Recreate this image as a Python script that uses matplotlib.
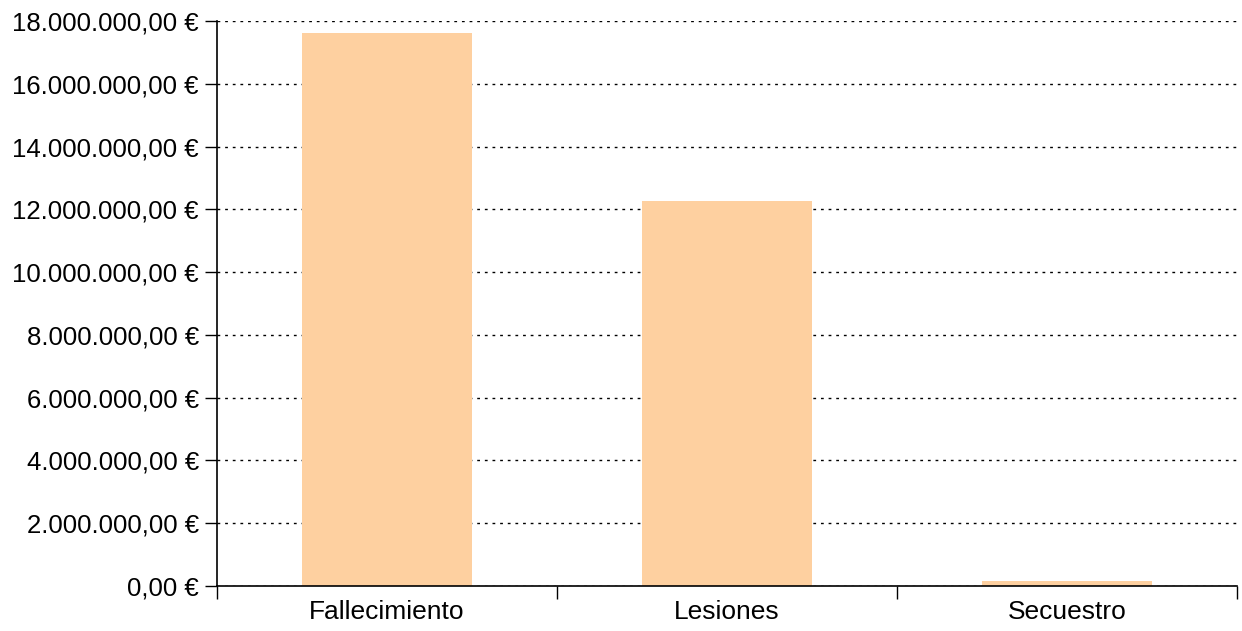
import matplotlib
matplotlib.use("Agg")
import matplotlib.pyplot as plt
from matplotlib.ticker import FuncFormatter, FixedLocator

categorias = ["Fallecimiento", "Lesiones", "Secuestro"]
importes = [17630000, 12250000, 160000]
y_ticks = list(range(0, 18000001, 2000000))


def euro(v, _pos=None):
    s = f"{v:,.2f}".replace(",", "X").replace(".", ",").replace("X", ".")
    return f"{s} €"


plt.rcParams["font.family"] = ["Liberation Sans", "DejaVu Sans"]

fig = plt.figure(figsize=(12.42, 6.31), dpi=100)
ax = fig.add_axes([217 / 1242, 1 - 586 / 631, (1237 - 217) / 1242, (586 - 21) / 631])

x = range(len(categorias))
ax.bar(x, importes, width=0.5, color="#FED0A0", zorder=2)

ax.set_xlim(-0.5, len(categorias) - 0.5)
ax.set_ylim(0, 18000000)
ax.set_yticks(y_ticks)
ax.yaxis.set_major_formatter(FuncFormatter(euro))
ax.grid(axis="y", color="black", linestyle=(0, (2, 3.5)), linewidth=1, zorder=0)

# ticks en los limites de cada categoria, etiquetas centradas
ax.xaxis.set_major_locator(FixedLocator([i - 0.5 for i in range(len(categorias) + 1)]))
ax.xaxis.set_minor_locator(FixedLocator(list(x)))
ax.set_xticklabels([], minor=False)
ax.set_xticklabels(categorias, minor=True)
ax.tick_params(axis="x", which="major", length=9, width=1, direction="out")
ax.tick_params(axis="x", which="minor", length=0, pad=10, labelsize=19)
ax.tick_params(axis="y", length=9, width=1, direction="out", pad=4, labelsize=18.5)

for side in ("top", "right"):
    ax.spines[side].set_visible(False)
for side in ("left", "bottom"):
    ax.spines[side].set_linewidth(1.2)
    ax.spines[side].set_zorder(3)

fig.savefig("out.png", dpi=100)
